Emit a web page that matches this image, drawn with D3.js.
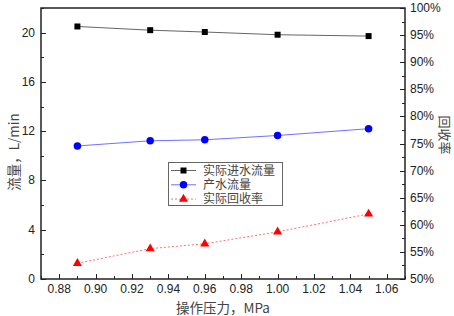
<!DOCTYPE html>
<html><head><meta charset="utf-8">
<script src="https://cdn.jsdelivr.net/npm/d3@7"></script>
<style>body{margin:0;background:#fff}svg{display:block}</style>
</head><body>
<svg id="c" width="454" height="316"></svg>
<script>
const pressure = [0.89, 0.93, 0.96, 1.00, 1.05];
const feedFlow = [20.5, 20.2, 20.05, 19.83, 19.72];
const productFlow = [10.8, 11.22, 11.3, 11.65, 12.2];
const recovery = [52.9, 55.6, 56.5, 58.7, 62.0];
const xTicks = [0.88, 0.90, 0.92, 0.94, 0.96, 0.98, 1.00, 1.02, 1.04, 1.06];
const yLeftTicks = [0, 4, 8, 12, 16, 20];
const yRightTicks = [50, 55, 60, 65, 70, 75, 80, 85, 90, 95, 100];
const legendLabels = ["实际进水流量", "产水流量", "实际回收率"];

const svg = d3.select("#c");
const L = 41, R = 405, T = 8, B = 279;
const x = d3.scaleLinear().domain([0.87, 1.07]).range([L, R]);
const yL = d3.scaleLinear().domain([0, 22]).range([B, T]);
const yR = d3.scaleLinear().domain([50, 100]).range([B, T]);
const tickFont = "'Liberation Sans', Arial, sans-serif";
const cjk = "'Noto Sans CJK SC', sans-serif";
const legFont = "'Liberation Serif', 'Noto Sans CJK SC', serif";

// ticks (inward)
const g = svg.append("g").attr("stroke", "#222").attr("stroke-width", 1);
d3.range(0.87, 1.0701, 0.01).forEach(v => {
  const xx = Math.round(x(v)) + 0.5;
  const major = xTicks.some(t => Math.abs(t - v) < 1e-6);
  g.append("line").attr("x1", xx).attr("x2", xx).attr("y1", B).attr("y2", B - (major ? 5 : 3));
});
d3.range(0, 22.01, 2).forEach(v => {
  const yy = Math.round(yL(v)) + 0.5;
  const major = v % 4 === 0;
  g.append("line").attr("x1", L).attr("x2", L + (major ? 5 : 3)).attr("y1", yy).attr("y2", yy);
});
d3.range(50, 100.01, 2.5).forEach(v => {
  const yy = Math.round(yR(v)) + 0.5;
  const major = v % 5 === 0;
  g.append("line").attr("x1", R).attr("x2", R - (major ? 5 : 3)).attr("y1", yy).attr("y2", yy);
});

// frame
svg.append("rect").attr("x", L).attr("y", T).attr("width", R - L).attr("height", B - T)
  .attr("fill", "none").attr("stroke", "#222").attr("stroke-width", 1.5);

// tick labels
svg.append("g").selectAll("text").data(xTicks).join("text")
  .attr("x", d => x(d)).attr("y", 293).attr("text-anchor", "middle")
  .attr("font-family", tickFont).attr("font-size", 12).attr("fill", "#222")
  .text(d => d.toFixed(2));
svg.append("g").selectAll("text").data(yLeftTicks).join("text")
  .attr("x", 35).attr("y", d => yL(d) + 4).attr("text-anchor", "end")
  .attr("font-family", tickFont).attr("font-size", 12).attr("fill", "#222")
  .text(d => d);
svg.append("g").selectAll("text").data(yRightTicks).join("text")
  .attr("x", 410).attr("y", d => yR(d) + 4).attr("text-anchor", "start")
  .attr("font-family", tickFont).attr("font-size", 12).attr("fill", "#222")
  .text(d => d + "%");

// axis titles
svg.append("text").attr("transform", "translate(19,152) rotate(-90)").attr("text-anchor", "middle")
  .attr("font-family", cjk).attr("font-size", 13.5).attr("fill", "#444").text("流量，L/min");
svg.append("text").attr("x", 223).attr("y", 313).attr("text-anchor", "middle")
  .attr("font-family", cjk).attr("font-size", 13.5).attr("fill", "#444").text("操作压力，MPa");
svg.append("text").attr("transform", "translate(440,135) rotate(90)").attr("text-anchor", "middle")
  .attr("font-family", cjk).attr("font-size", 13).attr("fill", "#444").text("回收率");

// series
const lineL = d3.line().x((d, i) => x(pressure[i])).y(d => yL(d));
const lineR = d3.line().x((d, i) => x(pressure[i])).y(d => yR(d));
svg.append("path").attr("d", lineL(feedFlow)).attr("fill", "none").attr("stroke", "#666").attr("stroke-width", 1);
svg.append("path").attr("d", lineL(productFlow)).attr("fill", "none").attr("stroke", "#7070ff").attr("stroke-width", 1);
svg.append("path").attr("d", lineR(recovery)).attr("fill", "none").attr("stroke", "#ff7070").attr("stroke-width", 1).attr("stroke-dasharray", "2,2");

const sq = d3.symbol().type(d3.symbolSquare).size(36);
const ci = d3.symbol().type(d3.symbolCircle).size(44);
const tr = d3.symbol().type(d3.symbolTriangle).size(36);
svg.append("g").selectAll("path").data(feedFlow).join("path")
  .attr("transform", (d, i) => `translate(${x(pressure[i])},${yL(d)})`).attr("d", sq).attr("fill", "#000");
svg.append("g").selectAll("path").data(productFlow).join("path")
  .attr("transform", (d, i) => `translate(${x(pressure[i])},${yL(d)})`).attr("d", ci).attr("fill", "#0000ff");
svg.append("g").selectAll("path").data(recovery).join("path")
  .attr("transform", (d, i) => `translate(${x(pressure[i])},${yR(d)})`).attr("d", tr).attr("fill", "#ff0000");

// legend
const lg = svg.append("g");
lg.append("rect").attr("x", 168.5).attr("y", 162.5).attr("width", 114).attr("height", 43)
  .attr("fill", "#fff").attr("stroke", "#666").attr("stroke-width", 1);
const legStyles = [
  {stroke: "#666", dash: null, sym: sq, fill: "#000"},
  {stroke: "#7070ff", dash: null, sym: ci, fill: "#0000ff"},
  {stroke: "#ff7070", dash: "2,2", sym: tr, fill: "#ff0000"}
];
legendLabels.forEach((lab, i) => {
  const yy = 170.5 + i * 14.3;
  const s = legStyles[i];
  lg.append("line").attr("x1", 171).attr("x2", 196).attr("y1", yy).attr("y2", yy)
    .attr("stroke", s.stroke).attr("stroke-width", 1).attr("stroke-dasharray", s.dash);
  lg.append("path").attr("transform", `translate(183.5,${yy})`).attr("d", s.sym).attr("fill", s.fill);
  lg.append("text").attr("x", 203).attr("y", yy + 4.3).attr("font-family", legFont).attr("font-size", 12)
    .attr("fill", "#444").text(lab);
});
</script>
</body></html>
